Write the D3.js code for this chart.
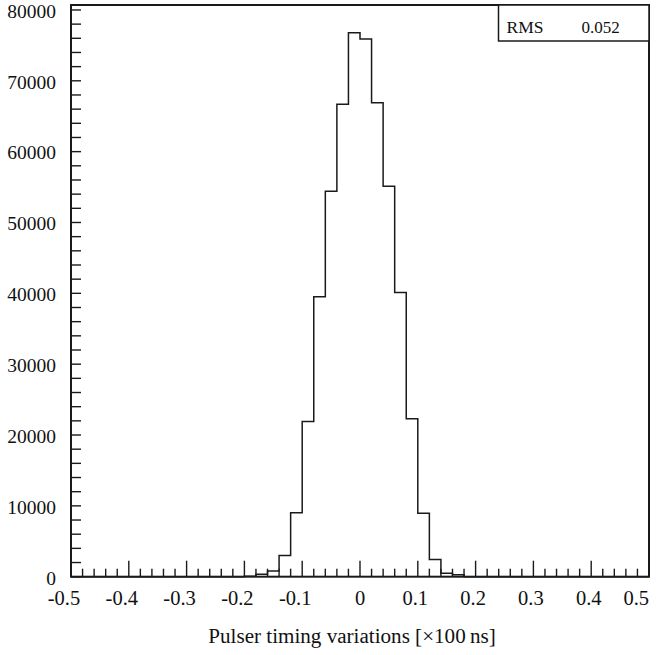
<!DOCTYPE html>
<html>
<head>
<meta charset="utf-8">
<script src="https://cdn.jsdelivr.net/npm/d3@7"></script>
<style>
  html, body { margin: 0; padding: 0; background: #fff; }
  svg text { font-family: "Liberation Serif", "DejaVu Serif", serif; fill: #111; }
</style>
</head>
<body>
<svg id="chart" width="660" height="655"></svg>
<script>
// ---- data ----
const xMin = -0.5;
const xMax = 0.5;
const binWidth = 0.02;
// counts per bin, 50 bins from -0.5 to 0.5
const counts = [
  0, 0, 0, 0, 0, 0, 0, 0, 0, 0,          // -0.50 .. -0.32
  0, 0, 0, 0, 0,                          // -0.30 .. -0.22
  80, 340, 820, 2980, 9030,               // -0.20 .. -0.12
  21900, 39500, 54400, 66700, 76800,      // -0.10 .. -0.02
  75900, 66900, 55100, 40100, 22300,      //  0.00 ..  0.08
  8950, 2430, 500, 260, 0,                //  0.10 ..  0.18
  0, 0, 0, 0, 0, 0, 0, 0, 0, 0,           //  0.20 ..  0.38
  0, 0, 0, 0, 0                           //  0.40 ..  0.48
];
const xTickLabels = [-0.5, -0.4, -0.3, -0.2, -0.1, 0, 0.1, 0.2, 0.3, 0.4, 0.5];
const yTickLabels = [0, 10000, 20000, 30000, 40000, 50000, 60000, 70000, 80000];
const yMax = 80700;
const rmsLabel = "RMS";
const rmsValue = "0.052";
const xTitle = "Pulser timing variations [\u00d7100\u2009ns]";

// ---- layout ----
const svg = d3.select("#chart");
const L = 71, R = 649, T = 5, B = 576.7;
const x = d3.scaleLinear().domain([xMin, xMax]).range([L, R]);
const y = d3.scaleLinear().domain([0, yMax]).range([B, T]);

// histogram outline (step)
const pts = [[x(xMin), y(0)]];
counts.forEach((c, i) => {
  const x0 = xMin + i * binWidth, x1 = x0 + binWidth;
  pts.push([x(x0), y(c)]);
  pts.push([x(x1), y(c)]);
});
pts.push([x(xMax), y(0)]);
svg.append("path")
  .attr("d", d3.line()(pts))
  .attr("fill", "none").attr("stroke", "#1a1a1a").attr("stroke-width", 1.5);

// x-axis ticks (inside, upward)
const xMinor = d3.range(0, 51).map(i => xMin + i * binWidth);
svg.append("g").selectAll("line").data(xMinor).join("line")
  .attr("x1", d => x(d)).attr("x2", d => x(d))
  .attr("y1", B).attr("y2", (d, i) => B - (i % 5 === 0 ? 16 : 8))
  .attr("stroke", "#1a1a1a").attr("stroke-width", 1.4);

// y-axis ticks (inside, rightward)
const yMinor = d3.range(0, 41).map(i => i * 2000);
svg.append("g").selectAll("line").data(yMinor).join("line")
  .attr("x1", L).attr("x2", L + 10)
  .attr("y1", d => y(d)).attr("y2", d => y(d))
  .attr("stroke", "#1a1a1a").attr("stroke-width", 1.4);

// frame
svg.append("rect")
  .attr("x", L).attr("y", T).attr("width", R - L).attr("height", B - T)
  .attr("fill", "none").attr("stroke", "#1a1a1a").attr("stroke-width", 2);

// x tick labels
const fmt = d => d === 0 ? "0" : d3.format(".1f")(d).replace("\u2212", "-");
svg.append("g").selectAll("text").data(xTickLabels).join("text")
  .attr("x", d => d === xMax ? R : x(d) + (d < 0 ? -7 : (d > 0 ? -2.5 : 0)))
  .attr("y", 605)
  .attr("text-anchor", d => d === xMax ? "end" : "middle")
  .attr("font-size", 20.5)
  .text(fmt);

// y tick labels
svg.append("g").selectAll("text").data(yTickLabels).join("text")
  .attr("x", 56).attr("y", d => y(d)).attr("dy", "0.4em")
  .attr("text-anchor", "end").attr("font-size", 19.5)
  .text(d => d);

// x title
svg.append("text").attr("x", 352).attr("y", 643)
  .attr("text-anchor", "middle").attr("font-size", 21.1)
  .text(xTitle);

// stats box
svg.append("rect").attr("x", 498.5).attr("y", T).attr("width", R - 498.5).attr("height", 41 - T)
  .attr("fill", "#fff").attr("stroke", "#1a1a1a").attr("stroke-width", 1.5);
svg.append("text").attr("x", 506.5).attr("y", 32.5).attr("font-size", 17.5).text(rmsLabel);
svg.append("text").attr("x", 581.5).attr("y", 32.5).attr("font-size", 17).text(rmsValue);
</script>
</body>
</html>
